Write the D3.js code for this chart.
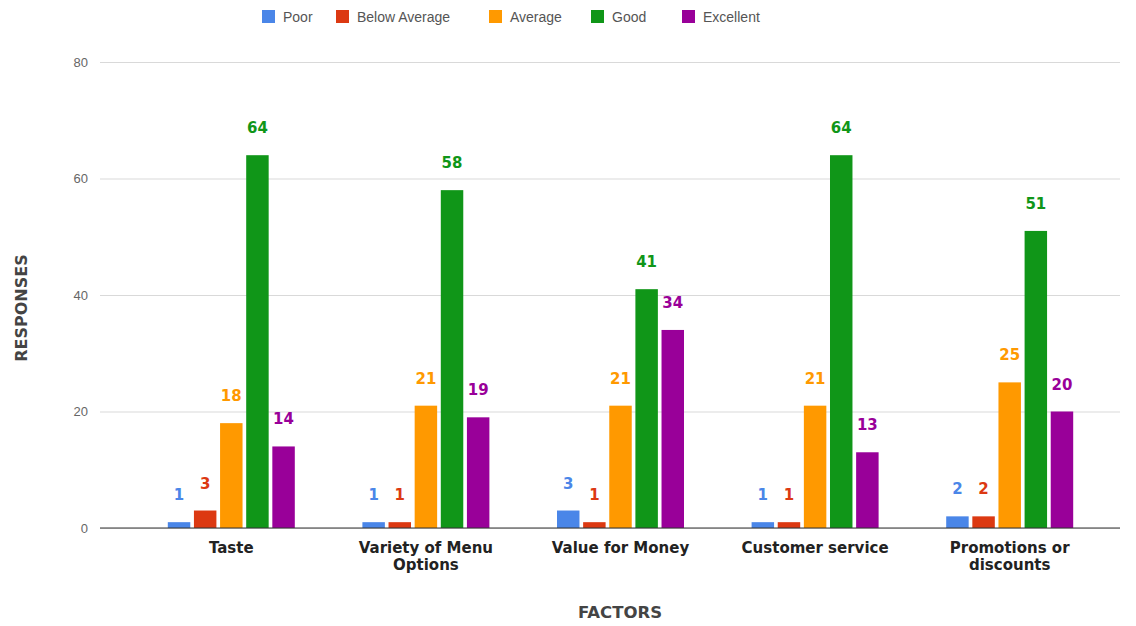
<!DOCTYPE html>
<html><head><meta charset="utf-8">
<script src="https://cdn.jsdelivr.net/npm/d3@7/dist/d3.min.js"></script>
<style>body{margin:0;background:#fff}svg{display:block;font-family:Arial,"Liberation Sans",sans-serif}</style>
</head><body><svg id="c" width="1136" height="626"></svg>
<script>
const categories = [["Taste"],["Variety of Menu","Options"],["Value for Money"],["Customer service"],["Promotions or","discounts"]];
const seriesNames = ["Poor","Below Average","Average","Good","Excellent"];
const poor = [1,1,3,1,2];
const belowAverage = [3,1,1,1,2];
const average = [18,21,21,21,25];
const good = [64,58,41,64,51];
const excellent = [14,19,34,13,20];
const yTicks = [0,20,40,60,80];
const colors = ["#4a86e8","#dc3912","#ff9900","#109618","#990099"];
const seriesValues = [poor,belowAverage,average,good,excellent];

const boldFont = "'DejaVu Sans',Verdana,sans-serif";
const svg = d3.select("#c");
const gridLeft = 100, gridRight = 1120;
const y = d3.scaleLinear().domain([0,80]).range([528,62]);
const x0 = d3.scaleBand().domain(d3.range(categories.length)).range([134,1107]);
const x1 = d3.scaleBand().domain(d3.range(seriesNames.length)).range([0,127]).paddingInner(0.14);

// gridlines
const yAxis = d3.axisLeft(y).tickValues(yTicks).tickSize(-(gridRight-gridLeft)).tickPadding(12);
const ga = svg.append("g").attr("transform",`translate(${gridLeft},0)`).call(yAxis);
ga.select(".domain").remove();
ga.selectAll(".tick line").attr("stroke","#d9d9d9");
ga.selectAll(".tick text").attr("fill","#666").attr("font-size",13).attr("font-family","Arial,'Liberation Sans',sans-serif");

// bars
const groups = svg.append("g").selectAll("g").data(categories).join("g")
  .attr("transform",(d,i)=>`translate(${x0(i)+x0.bandwidth()/2-63.5},0)`);
groups.each(function(d,ci){
  const g = d3.select(this);
  seriesValues.forEach((vals,si)=>{
    const v = vals[ci];
    g.append("rect").attr("x",x1(si)).attr("y",y(v)).attr("width",x1.bandwidth())
      .attr("height",y(0)-y(v)).attr("fill",colors[si]);
    g.append("text").attr("x",x1(si)+x1.bandwidth()/2).attr("y",y(v)-22)
      .attr("text-anchor","middle").attr("font-size",15).attr("font-weight","bold")
      .attr("font-family",boldFont).attr("fill",colors[si]).text(v);
  });
});

// baseline
svg.append("line").attr("x1",gridLeft).attr("x2",gridRight).attr("y1",y(0)).attr("y2",y(0)).attr("stroke","#333").attr("stroke-width",1);

// x labels
const xl = svg.append("g").selectAll("text").data(categories).join("text")
  .attr("x",(d,i)=>x0(i)+x0.bandwidth()/2).attr("y",553)
  .attr("text-anchor","middle").attr("font-size",15).attr("font-weight","bold")
  .attr("font-family",boldFont).attr("fill","#222");
xl.each(function(d){
  const t=d3.select(this);
  d.forEach((line,k)=>t.append("tspan").attr("x",t.attr("x")).attr("dy",k?17:0).text(line));
});

// axis titles
svg.append("text").attr("x",620).attr("y",618).attr("text-anchor","middle").attr("font-size",16.5)
  .attr("font-weight","bold").attr("font-family",boldFont).attr("fill","#444").text("FACTORS");
svg.append("text").attr("transform","translate(27,308) rotate(-90)").attr("text-anchor","middle")
  .attr("font-size",16).attr("font-weight","bold").attr("font-family",boldFont).attr("fill","#444").text("RESPONSES");

// legend
const legendX = [262,336,489,591,682];
const lg = svg.append("g").selectAll("g").data(seriesNames).join("g")
  .attr("transform",(d,i)=>`translate(${legendX[i]},10)`);
lg.append("rect").attr("width",13).attr("height",13).attr("fill",(d,i)=>colors[i]);
lg.append("text").attr("x",21).attr("y",12).attr("font-size",14).attr("fill","#555").text(d=>d);
</script></body></html>
